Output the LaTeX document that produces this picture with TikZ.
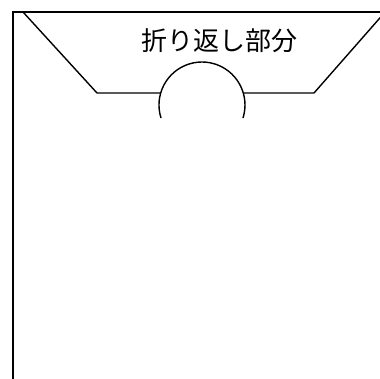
\documentclass[tikz,border=0pt]{standalone}
\usepackage{fontspec}
\newfontfamily\cjk{Noto Sans CJK JP}
\begin{document}
\begin{tikzpicture}[x=1pt,y=-1pt,
  edge/.style={draw=black,line width=1.4pt},
  label/.style={font=\cjk\fontsize{26}{26}\selectfont,inner sep=0pt}]
\useasboundingbox (0,0) rectangle (380,378);
\clip (0,0) rectangle (380,378);
\coordinate (tl) at (13,12);
\coordinate (tr) at (385,12);
\coordinate (bl) at (13,380);
\coordinate (d1) at (23,12);
\coordinate (d2) at (97,93);
\coordinate (h1) at (160.7,93);
\coordinate (h2) at (243.3,93);
\coordinate (d3) at (314,93);
\coordinate (d4) at (386,11);
\coordinate (c) at (202,105);
\draw[edge] (bl) -- (tl) -- (tr);
\draw[edge] (d1) -- (d2) -- (h1);
\draw[edge] (h2) -- (d3) -- (d4);
\draw[edge] (161,118) arc[start angle=162.4,end angle=377.6,radius=43];
\node[label] (t) at (219,41) {折り返し部分};
\end{tikzpicture}
\end{document}
